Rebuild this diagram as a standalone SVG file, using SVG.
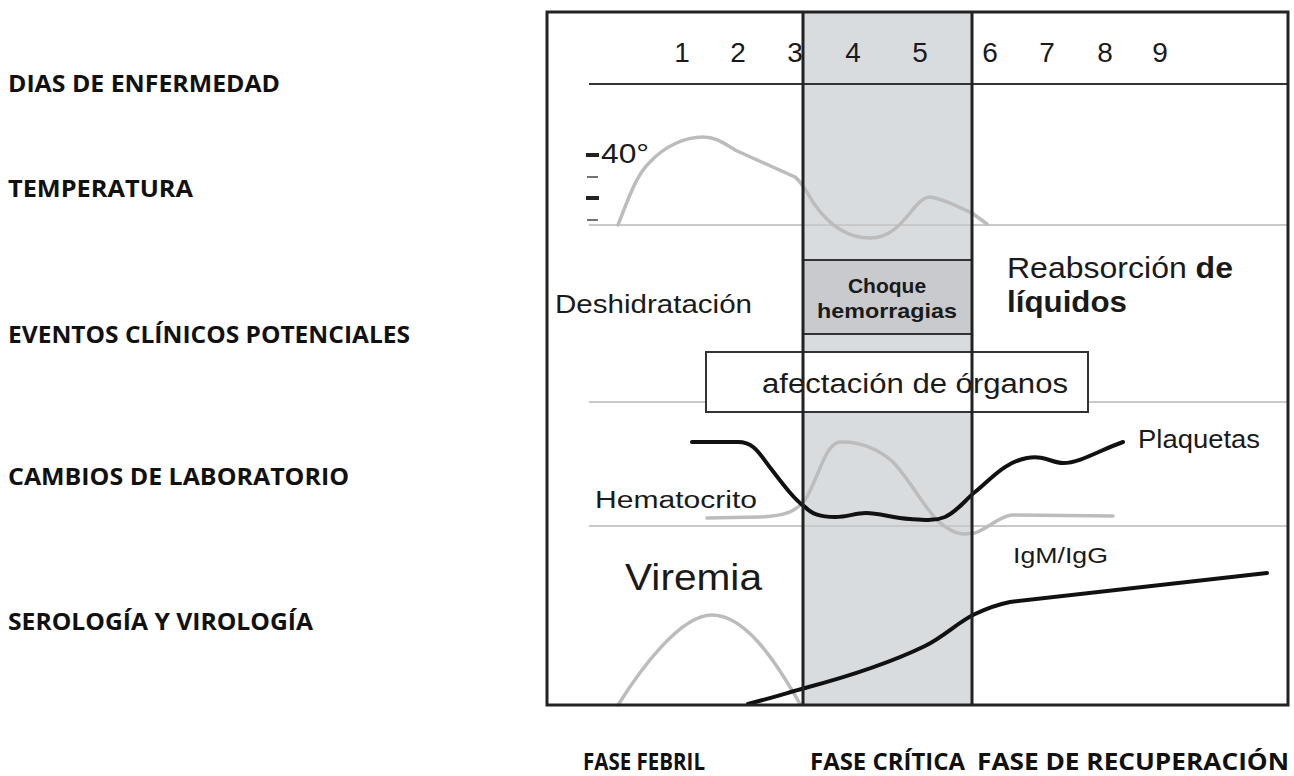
<svg xmlns="http://www.w3.org/2000/svg" width="1294" height="776" viewBox="0 0 1294 776">
<style>
.lbl{font-family:"Open Sans",Lato,"Liberation Sans",sans-serif;font-weight:bold;fill:#111;font-size:23px}
.t{font-family:"Liberation Sans",Arial,sans-serif;fill:#1a1a1a}
.b{font-weight:bold}
.grid{stroke:#c9c9c9;stroke-width:2;fill:none}
.gc{stroke:#bcbcbc;stroke-width:3.5;fill:none;stroke-linecap:round;stroke-linejoin:round}
.bc{stroke:#111;stroke-width:4;fill:none;stroke-linecap:round;stroke-linejoin:round}
.frame{stroke:#222;stroke-width:3;fill:none}
</style>
<rect width="1294" height="776" fill="#fff"/>
<g id="row-labels">
<text class="lbl" x="8" y="92" textLength="272" lengthAdjust="spacingAndGlyphs">DIAS DE ENFERMEDAD</text>
<text class="lbl" x="8" y="197" textLength="185" lengthAdjust="spacingAndGlyphs">TEMPERATURA</text>
<text class="lbl" x="8" y="343" textLength="402" lengthAdjust="spacingAndGlyphs">EVENTOS CLÍNICOS POTENCIALES</text>
<text class="lbl" x="8" y="485" textLength="341" lengthAdjust="spacingAndGlyphs">CAMBIOS DE LABORATORIO</text>
<text class="lbl" x="8" y="630" textLength="305" lengthAdjust="spacingAndGlyphs">SEROLOGÍA Y VIROLOGÍA</text>
</g>
<g id="phase-labels">
<text class="lbl" x="583" y="770" textLength="122" lengthAdjust="spacingAndGlyphs">FASE FEBRIL</text>
<text class="lbl" x="810" y="770" textLength="155" lengthAdjust="spacingAndGlyphs">FASE CRÍTICA</text>
<text class="lbl" x="977" y="770" textLength="312" lengthAdjust="spacingAndGlyphs">FASE DE RECUPERACIÓN</text>
</g>
<g id="chart">
<rect x="803" y="12" width="169" height="693" fill="#d9dcdf"/>
<line class="grid" x1="589" y1="225" x2="1288" y2="225"/>
<line class="grid" x1="589" y1="402" x2="1288" y2="402"/>
<line class="grid" x1="589" y1="526" x2="1288" y2="526"/>
<line x1="589" y1="84" x2="1288" y2="84" stroke="#333" stroke-width="2"/>
<g id="days" class="t" font-size="28" text-anchor="middle">
<text x="682" y="62">1</text><text x="738" y="62">2</text><text x="795" y="62">3</text>
<text x="853" y="62">4</text><text x="920" y="62">5</text><text x="990" y="62">6</text>
<text x="1047" y="62">7</text><text x="1105" y="62">8</text><text x="1160" y="62">9</text>
</g>
<g id="temp-scale">
<line x1="586" y1="155" x2="599" y2="155" stroke="#222" stroke-width="4"/>
<line x1="587" y1="177" x2="598" y2="177" stroke="#444" stroke-width="1.5"/>
<line x1="586" y1="198" x2="599" y2="198" stroke="#222" stroke-width="4"/>
<line x1="587" y1="220" x2="598" y2="220" stroke="#444" stroke-width="1.5"/>
<text class="t" x="601" y="163" font-size="28" textLength="48" lengthAdjust="spacingAndGlyphs">40°</text>
</g>
<path id="temperatura" class="gc" d="M618,225 C628,200 636,175 650,162 C665,146 685,137 703,137 C715,137 722,142 735,150 L795,177 C803,183 808,195 815,205 C830,226 848,238 870,238 C892,238 904,220 915,207 C920,201 925,197 930,197 C945,199 960,208 972,213 L987,224"/>
<text class="t" x="555" y="313" font-size="25" textLength="197" lengthAdjust="spacingAndGlyphs">Deshidratación</text>
<g id="choque">
<rect x="803" y="260" width="169" height="74" fill="#c8cacd" stroke="#333" stroke-width="2"/>
<text class="t b" x="887" y="293" font-size="21" text-anchor="middle">Choque</text>
<text class="t b" x="887" y="318" font-size="21" text-anchor="middle" textLength="140" lengthAdjust="spacingAndGlyphs">hemorragias</text>
</g>
<text class="t" x="1007" y="278" font-size="29" textLength="226" lengthAdjust="spacingAndGlyphs">Reabsorción <tspan class="b">de</tspan></text>
<text class="t b" x="1007" y="312" font-size="29" textLength="120" lengthAdjust="spacingAndGlyphs">líquidos</text>
<g id="organos">
<rect x="706" y="352" width="382" height="60" fill="#fff" stroke="#333" stroke-width="2"/>
<text class="t" x="762" y="393" font-size="27" textLength="306" lengthAdjust="spacingAndGlyphs">afectación de órganos</text>
</g>
<path id="hematocrito" class="gc" d="M707,518 L760,517 C785,516 795,512 805,500 C818,480 825,443 840,442 C860,441 880,450 893,462 C908,478 920,500 935,518 C945,528 955,534 965,534 L975,533 C990,527 1000,516 1012,515 L1113,516"/>
<path id="plaquetas" class="bc" d="M692,442 L738,442 C755,442 760,455 772,470 C785,487 795,500 805,507 C812,514 820,517 835,517 C848,517 855,513 866,513 C880,513 892,518 910,519 C925,520 935,521 945,517 C958,511 965,500 975,492 C992,478 1005,462 1027,458 C1045,455 1052,463 1063,463 C1080,463 1100,450 1123,442"/>
<text class="t" x="595" y="508" font-size="23" textLength="162" lengthAdjust="spacingAndGlyphs">Hematocrito</text>
<text class="t" x="1138" y="448" font-size="25" textLength="122" lengthAdjust="spacingAndGlyphs">Plaquetas</text>
<text class="t" x="1013" y="563" font-size="22" textLength="95" lengthAdjust="spacingAndGlyphs">IgM/IgG</text>
<text class="t" x="625" y="590" font-size="37" textLength="137" lengthAdjust="spacingAndGlyphs">Viremia</text>
<path id="viremia" class="gc" d="M618,705 C640,670 680,615 712,615 C745,615 775,660 800,704"/>
<path id="igm-igg" class="bc" d="M748,704 C775,697 790,692 805,688 C850,676 890,663 925,646 C945,636 958,622 975,614 C990,607 1000,604 1010,602 L1267,573"/>
<line x1="803" y1="12" x2="803" y2="705" stroke="#222" stroke-width="3"/>
<line x1="972" y1="12" x2="972" y2="705" stroke="#222" stroke-width="3"/>
<rect class="frame" x="547" y="12" width="741" height="693"/>
</g>
</svg>
